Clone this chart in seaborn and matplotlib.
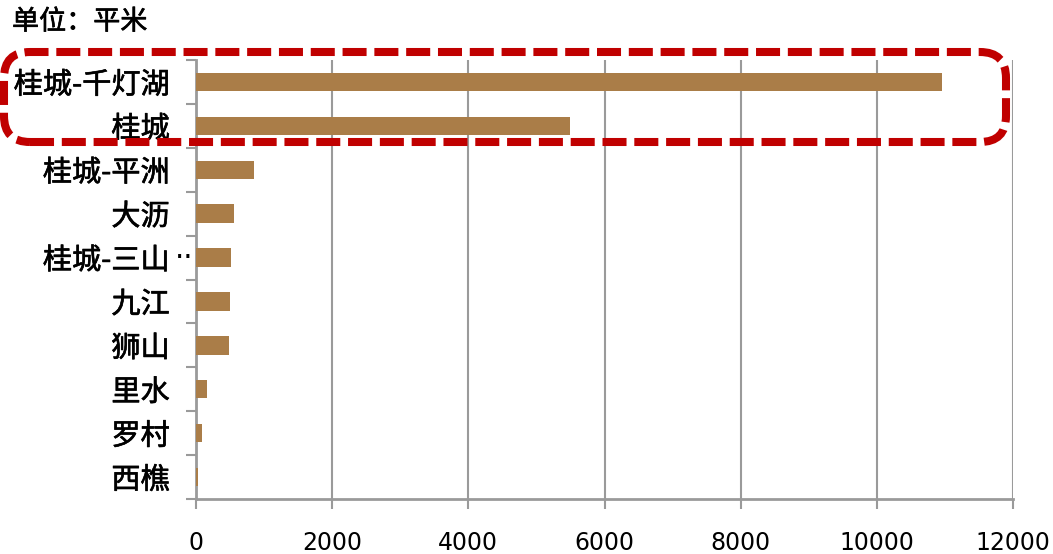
import matplotlib
matplotlib.use("Agg")
import matplotlib.pyplot as plt
import matplotlib.patheffects as pe
from matplotlib.patches import FancyBboxPatch
from matplotlib.transforms import IdentityTransform
import seaborn as sns
import pandas as pd

# Commercial transaction area by sub-district (square metres)
districts = ["桂城-千灯湖", "桂城", "桂城-平洲", "大沥", "桂城-三山",
             "九江", "狮山", "里水", "罗村", "西樵"]
areas = [10950, 5500, 850, 555, 515, 505, 485, 165, 88, 30]
x_ticks = [0, 2000, 4000, 6000, 8000, 10000, 12000]
unit_label = "单位：平米"

bar_color = "#AA7D48"
grid_color = "#9A9A9A"
box_color = "#C00000"

sns.set_theme(style="white")
plt.rcParams["font.family"] = ["Noto Sans CJK SC", "DejaVu Sans"]

# slightly heavier strokes for the Chinese labels
heavy = [pe.withStroke(linewidth=0.45, foreground="black")]

df = pd.DataFrame({"district": districts, "area": areas})

fig = plt.figure(figsize=(10.53, 5.54), dpi=100)
ax = fig.add_axes([196 / 1053, 1 - 499 / 554, (1013 - 196) / 1053, (499 - 60) / 554])

sns.barplot(data=df, x="area", y="district", orient="h", color=bar_color,
            saturation=1, width=0.42, linewidth=0, ax=ax, zorder=3)

ax.set_xlim(0, 12000)
ax.set_ylim(len(districts) - 0.5, -0.5)
ax.set_xticks(x_ticks)
ax.set_xticklabels([str(t) for t in x_ticks], family="DejaVu Sans", fontsize=17)
ax.set_xlabel("")
ax.set_ylabel("")

# Category ticks sit on the boundaries between bars
ax.set_yticks([i - 0.5 for i in range(len(districts) + 1)], minor=False)
ax.set_yticklabels([])
ax.set_yticks(range(len(districts)), minor=True)
labels = list(districts)
labels[4] = "桂城-三山"
ylabels = ax.set_yticklabels(labels, minor=True, fontsize=21, color="black")
for t in ylabels:
    t.set_path_effects(heavy)
ax.tick_params(axis="y", which="minor", length=0, pad=19)
ax.tick_params(axis="y", which="major", length=7, width=1.5, color=grid_color,
               direction="out", left=True)
ax.tick_params(axis="x", length=7, width=1.5, color=grid_color, direction="out",
               bottom=True, pad=16, colors="black")
ax.tick_params(axis="x", colors=grid_color, labelcolor="black")

# trailing ellipsis of the truncated label
ax.annotate("··", xy=(0, 4), xycoords=("axes fraction", "data"),
            xytext=(-15, 0), textcoords="offset points", ha="left", va="center",
            fontsize=21, family="DejaVu Sans", color="black",
            annotation_clip=False)

ax.grid(axis="x", color=grid_color, linewidth=1.5, zorder=0)
ax.grid(axis="y", visible=False)
for side in ["top", "right"]:
    ax.spines[side].set_visible(False)
for side in ["left", "bottom"]:
    ax.spines[side].set_visible(True)
    ax.spines[side].set_color(grid_color)
    ax.spines[side].set_linewidth(2)
ax.set_axisbelow(True)

fig.text(12 / 1053, 1 - 22 / 554, unit_label, fontsize=19.5,
         ha="left", va="center", color="black", path_effects=heavy)

# Highlight box around the two leading districts
lw_pt = 5.8
box = FancyBboxPatch((4 + 26, 554 - 142 + 26), 1006 - 4 - 52, 142 - 52 - 52,
                     boxstyle="round,pad=26", transform=IdentityTransform(),
                     fill=False, edgecolor=box_color, linewidth=lw_pt,
                     linestyle=(0, (17.3 / lw_pt, 5.6 / lw_pt)), zorder=10)
fig.add_artist(box)

fig.savefig("out.png", dpi=100)
